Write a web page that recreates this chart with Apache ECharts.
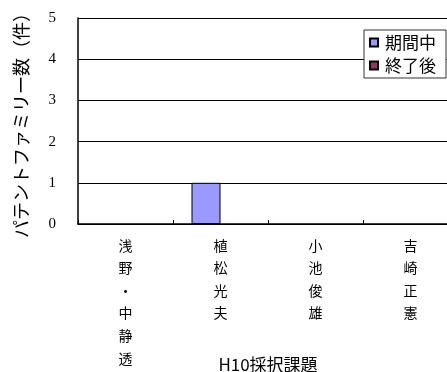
<!DOCTYPE html>
<html>
<head>
<meta charset="utf-8">
<script src="https://cdn.jsdelivr.net/npm/echarts@6/dist/echarts.min.js"></script>
<style>
  html, body { margin: 0; padding: 0; background: #fff; }
  #chart { width: 447px; height: 372px; }
</style>
</head>
<body>
<div id="chart"></div>
<script>
// 課題名（縦書き）
const categories = ['浅野・中静透', '植松光夫', '小池俊雄', '吉崎正憲'];
const duringValues = [0, 1, 0, 0];   // 期間中
const afterValues = [0, 0, 0, 0];    // 終了後
const yTicks = [0, 1, 2, 3, 4, 5];

const jp = '"Noto Sans CJK JP", sans-serif';

// 0 の棒は描かない（枠線が残るため）
const hideZero = (arr) => arr.map(v => v === 0 ? null : v);

const chart = echarts.init(document.getElementById('chart'));

chart.setOption({
  animation: false,
  grid: { left: 78, top: 18, bottom: 148, right: -11, containLabel: false, outerBoundsMode: 'none' },
  legend: {
    orient: 'vertical',
    right: 1,
    top: 30,
    backgroundColor: '#fff',
    borderColor: '#333',
    borderWidth: 1,
    padding: [4, 10, 4, 5],
    itemWidth: 8,
    itemHeight: 8,
    itemGap: 6,
    icon: 'rect',
    textStyle: { fontFamily: jp, fontSize: 17, lineHeight: 16, color: '#000', padding: [0, 0, 0, 2] },
    data: ['期間中', '終了後']
  },
  xAxis: {
    type: 'category',
    data: categories,
    name: 'H10採択課題',
    nameLocation: 'middle',
    nameGap: 132,
    nameMoveOverlap: false,
    nameTextStyle: { fontFamily: jp, fontSize: 17, color: '#000' },
    axisLine: { lineStyle: { color: '#000', width: 1.5 } },
    axisTick: { show: true, inside: true, length: 4, lineStyle: { color: '#000' } },
    axisLabel: {
      fontFamily: jp,
      fontSize: 14,
      color: '#000',
      lineHeight: 22.6,
      margin: 10,
      interval: 0,
      formatter: (v) => v.split('').join('\n')
    }
  },
  yAxis: {
    type: 'value',
    min: 0,
    max: 5,
    interval: 1,
    name: 'パテントファミリー数（件）',
    nameLocation: 'middle',
    nameRotate: 90,
    nameGap: 48,
    nameMoveOverlap: false,
    nameTextStyle: { fontFamily: jp, fontSize: 18, color: '#000' },
    axisLine: { show: true, lineStyle: { color: '#000', width: 1.5 } },
    axisTick: { show: false },
    axisLabel: {
      fontFamily: '"Liberation Serif", serif',
      fontSize: 15,
      color: '#000',
      margin: 22,
      formatter: (v) => yTicks.includes(v) ? String(v) : ''
    },
    splitLine: { lineStyle: { color: '#000', width: 1 } }
  },
  series: [
    {
      name: '期間中',
      type: 'bar',
      data: hideZero(duringValues),
      barWidth: 29,
      barGap: '0%',
      itemStyle: { color: '#9999FF', borderColor: '#000', borderWidth: 1 }
    },
    {
      name: '終了後',
      type: 'bar',
      data: hideZero(afterValues),
      barWidth: 29,
      barGap: '0%',
      itemStyle: { color: '#993366', borderColor: '#000', borderWidth: 1 }
    }
  ]
});
</script>
</body>
</html>
